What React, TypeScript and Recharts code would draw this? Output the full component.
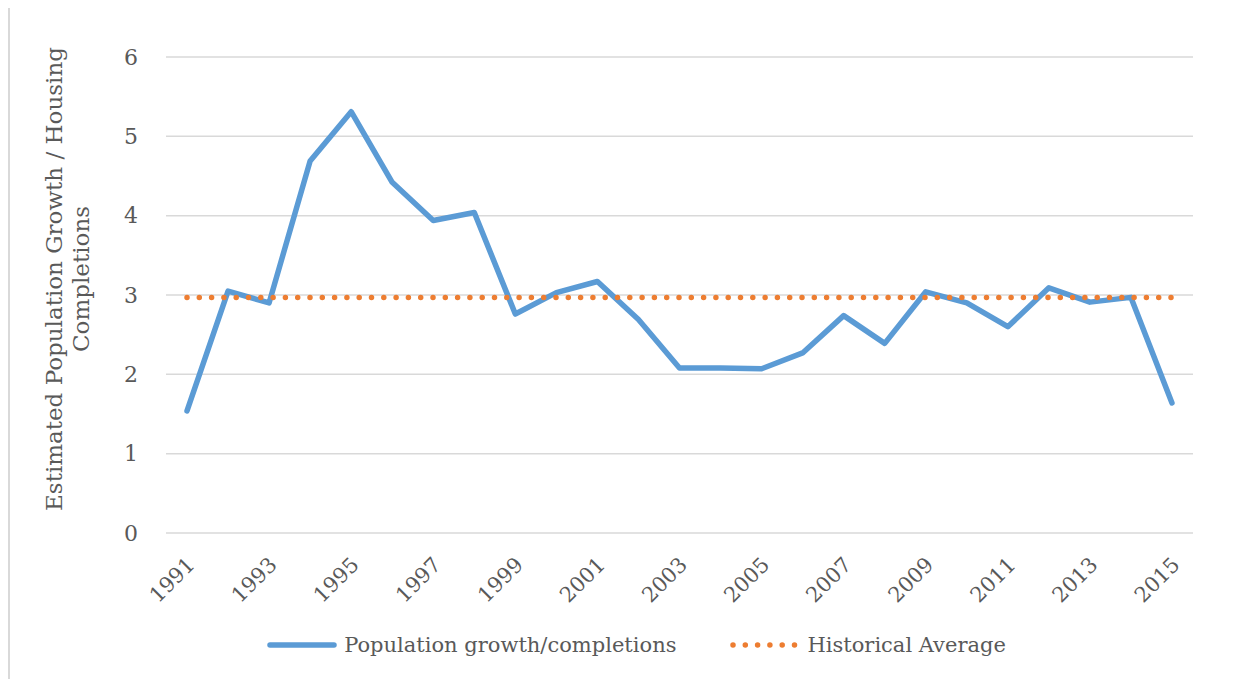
import React from 'react';
import { LineChart, Line, XAxis, YAxis, CartesianGrid, Legend } from 'recharts';

const years = [
  '1991', '1992', '1993', '1994', '1995', '1996', '1997', '1998', '1999', '2000',
  '2001', '2002', '2003', '2004', '2005', '2006', '2007', '2008', '2009', '2010',
  '2011', '2012', '2013', '2014', '2015',
];
const growthRatio = [
  1.54, 3.05, 2.9, 4.69, 5.31, 4.42, 3.94, 4.04, 2.76, 3.03,
  3.17, 2.69, 2.08, 2.08, 2.07, 2.27, 2.74, 2.39, 3.04, 2.9,
  2.6, 3.09, 2.91, 2.97, 1.64,
];
const historicalAverage = years.map(() => 2.97);
const yTicks = [0, 1, 2, 3, 4, 5, 6];
const seriesOrder = ['ratio', 'avg'];

const BLUE = '#5B9BD5';
const ORANGE = '#ED7D31';
const TEXT = '#595959';
const FONT = '"DejaVu Serif", serif';

const data = years.map((year, i) => ({
  year,
  ratio: growthRatio[i],
  avg: historicalAverage[i],
}));

const XTick = (props: any) => {
  const { x, y, payload } = props;
  return (
    <g transform={`translate(${x + 9},${y + 33})`}>
      <text x={0} y={0} textAnchor="end" transform="rotate(-45)" fill={TEXT} fontSize={21} fontFamily={FONT}>
        {payload.value}
      </text>
    </g>
  );
};

const YLabel = () => (
  <text transform="translate(0,271) rotate(-90)" textAnchor="middle" fill={TEXT} fontSize={23} fontFamily={FONT}>
    <tspan x={0} y={54}>Estimated Population Growth / Housing</tspan>
    <tspan x={0} y={81}>Completions</tspan>
  </text>
);

const LegendContent = (props: any) => {
  const items = [...(props.payload || [])].sort(
    (a: any, b: any) => seriesOrder.indexOf(a.dataKey) - seriesOrder.indexOf(b.dataKey)
  );
  return (
    <div style={{ display: 'flex', justifyContent: 'center', alignItems: 'center', height: 40, gap: 54, paddingLeft: 72 }}>
      {items.map((entry: any) => (
        <div key={entry.dataKey} style={{ display: 'flex', alignItems: 'center', gap: 7 }}>
          <svg width={70} height={12}>
            {entry.dataKey === 'avg' ? (
              <line x1={3} y1={6} x2={67} y2={6} stroke={ORANGE} strokeWidth={5.5} strokeLinecap="round" strokeDasharray="0 12.3" />
            ) : (
              <line x1={3} y1={6} x2={67} y2={6} stroke={BLUE} strokeWidth={5.5} strokeLinecap="round" />
            )}
          </svg>
          <span style={{ color: TEXT, fontSize: 21, fontFamily: FONT }}>{entry.value}</span>
        </div>
      ))}
    </div>
  );
};

export default function App() {
  return (
    <div style={{ position: 'relative', width: 1238, height: 672 }}>
      <div
        style={{
          position: 'absolute',
          top: -1,
          left: 0,
          width: 1260,
          height: 700,
          borderTop: '1px solid #D9D9D9',
          borderLeft: '2px solid #D9D9D9',
          boxSizing: 'border-box',
        }}
      />
      <LineChart width={1238} height={672} data={data} margin={{ top: 49, right: 53, bottom: 15, left: 0 }}>
        <CartesianGrid vertical={false} stroke="#D9D9D9" strokeWidth={1.5} />
        <XAxis
          dataKey="year"
          interval={1}
          axisLine={false}
          tickLine={false}
          tickSize={0}
          tickMargin={0}
          height={92}
          padding={{ left: 21, right: 21 }}
          tick={<XTick />}
        />
        <YAxis
          domain={[0, 6]}
          ticks={yTicks}
          width={158}
          axisLine={false}
          tickLine={false}
          tickSize={0}
          tickMargin={28}
          tick={{ fill: TEXT, fontSize: 22, fontFamily: FONT }}
          label={<YLabel />}
        />
        <Legend verticalAlign="bottom" height={40} content={<LegendContent />} />
        <Line
          dataKey="ratio"
          name="Population growth/completions"
          stroke={BLUE}
          strokeWidth={5.5}
          strokeLinejoin="round"
          strokeLinecap="round"
          dot={false}
          isAnimationActive={false}
        />
        <Line
          dataKey="avg"
          name="Historical Average"
          stroke={ORANGE}
          strokeWidth={5.5}
          strokeLinecap="round"
          strokeDasharray="0 12.3"
          dot={false}
          isAnimationActive={false}
        />
      </LineChart>
    </div>
  );
}
